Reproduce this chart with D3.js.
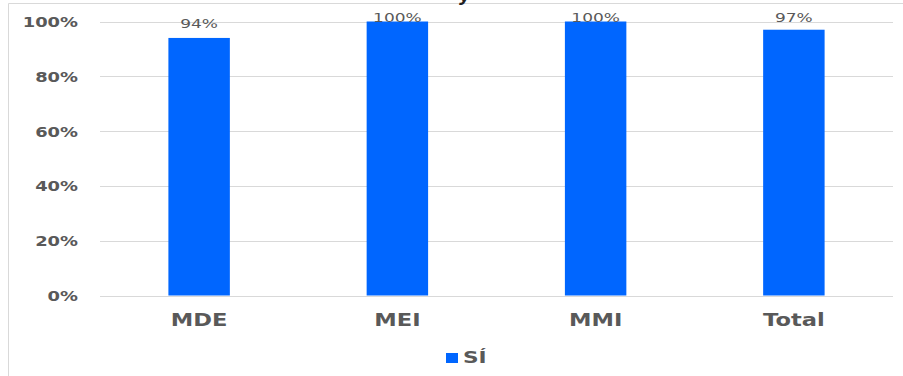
<!DOCTYPE html>
<html>
<head>
<meta charset="utf-8">
<script src="https://cdn.jsdelivr.net/npm/d3@7"></script>
<style>
  html, body { margin: 0; padding: 0; background: #fff; }
  svg { display: block; }
</style>
</head>
<body>
<svg id="chart" width="903" height="376"></svg>
<script>
const categories = ["MDE", "MEI", "MMI", "Total"];
const seriesName = "SÍ";
const values = [0.94, 1.00, 1.00, 0.97];
const yTicks = [0, 0.2, 0.4, 0.6, 0.8, 1.0];

const W = 903, H = 376;
const plot = { left: 100, right: 893, top: 21.5, bottom: 295.5 };
const barColor = "#0066FF";
const textColor = "#595959";
const gridColor = "#d9d9d9";
const FONT = "'DejaVu Sans', sans-serif";

const svg = d3.select("#chart");
svg.append("rect").attr("width", W).attr("height", H).attr("fill", "#fff");

// chart frame (partially visible)
svg.append("line").attr("x1", 8.5).attr("x2", W).attr("y1", 3.5).attr("y2", 3.5)
  .attr("stroke", "#d9d9d9").attr("stroke-width", 1);
svg.append("line").attr("x1", 8.5).attr("x2", 8.5).attr("y1", 3.5).attr("y2", H)
  .attr("stroke", "#d9d9d9").attr("stroke-width", 1);

// cut-off title fragment
svg.append("text").attr("x", 458).attr("y", 0.5)
  .attr("font-family", FONT).attr("font-weight", "bold").attr("font-size", 18)
  .attr("fill", "#222").attr("transform", "skewX(-10)").text("y");

const x = d3.scaleBand().domain(categories)
  .range([plot.left, plot.right]).paddingInner(0.69).paddingOuter(0.345);
const y = d3.scaleLinear().domain([0, 1]).range([plot.bottom, plot.top]);

function stretch(sel, sx) {
  sel.each(function () {
    const t = d3.select(this);
    const ox = +t.attr("x") || 0;
    t.attr("x", ox / sx).attr("transform", `scale(${sx},1)`);
  });
}

// gridlines
svg.append("g").selectAll("line").data(yTicks).join("line")
  .attr("x1", plot.left).attr("x2", plot.right)
  .attr("y1", d => Math.round(y(d)) + 0.5).attr("y2", d => Math.round(y(d)) + 0.5)
  .attr("stroke", gridColor).attr("stroke-width", 1);

// y axis
const yAxis = svg.append("g").attr("transform", `translate(${plot.left},0)`)
  .call(d3.axisLeft(y).tickValues(yTicks).tickFormat(d3.format(".0%")).tickSize(0).tickPadding(22));
yAxis.select(".domain").remove();
yAxis.selectAll("text").attr("font-family", FONT).attr("font-weight", "bold")
  .attr("font-size", 14).attr("fill", textColor).attr("dy", "0.36em");
stretch(yAxis.selectAll("text"), 1.28);

// x axis
const xAxis = svg.append("g").attr("transform", `translate(0,${plot.bottom})`)
  .call(d3.axisBottom(x).tickSize(0));
xAxis.select(".domain").remove();
xAxis.selectAll("text").attr("font-family", FONT).attr("font-weight", "bold")
  .attr("font-size", 17).attr("fill", textColor).attr("dy", 0).attr("y", 31);
stretch(xAxis.selectAll("text"), 1.33);

// bars
const data = categories.map((c, i) => ({ c, v: values[i] }));
svg.append("g").selectAll("rect").data(data).join("rect")
  .attr("x", d => x(d.c)).attr("width", x.bandwidth())
  .attr("y", d => y(d.v)).attr("height", d => y(0) - y(d.v))
  .attr("fill", barColor);

// data labels (clamped to plot top as in the source)
const lbl = svg.append("g").selectAll("g").data(data).join("g")
  .attr("transform", d => `translate(${x(d.c) + x.bandwidth() / 2},${Math.max(y(d.v) - 10, y(1))})`);
lbl.append("text").attr("text-anchor", "middle")
  .attr("font-family", FONT).attr("font-size", 12.5).attr("fill", textColor)
  .text(d => d3.format(".0%")(d.v));
stretch(lbl.selectAll("text"), 1.36);

// legend
const leg = svg.append("g").attr("transform", "translate(446,353)");
leg.append("rect").attr("width", 12).attr("height", 10).attr("fill", barColor);
const lt = leg.append("g").attr("transform", "translate(17,10)");
lt.append("text").attr("font-family", FONT).attr("font-weight", "bold")
  .attr("font-size", 15.5).attr("fill", textColor).text(seriesName);
stretch(lt.selectAll("text"), 1.4);
</script>
</body>
</html>
